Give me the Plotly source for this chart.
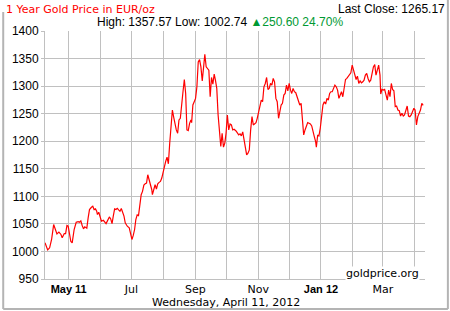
import pandas as pd
import plotly.graph_objects as go

# ---------------- data ----------------
start_date = "2011-04-08"
# days after start_date for each sampled point
day_offsets = [
    0.0, 2.6, 4.5, 6.4, 8.4, 9.7, 11.6, 13.5, 15.5, 16.7, 18.7, 20.0, 21.3, 22.5, 23.8,
    25.1, 26.4, 28.3, 30.3, 32.2, 33.5, 34.8, 36.1, 37.4, 38.6, 40.6, 41.9, 43.2, 45.1,
    46.4, 47.7, 49.0, 50.2, 50.9, 52.2, 53.5, 54.8, 56.7, 58.0, 59.3, 60.5, 62.5, 63.8,
    65.1, 66.3, 67.6, 68.9, 70.2, 71.5, 72.8, 74.1, 75.4, 76.7, 77.9, 79.9, 81.8, 83.1,
    84.4, 85.7, 87.0, 88.2, 89.5, 90.8, 92.1, 93.4, 94.7, 96.0, 97.3, 98.6, 99.8, 101.1,
    102.4, 103.7, 104.3, 105.6, 106.9, 108.2, 109.5, 110.8, 112.1, 113.4, 114.7, 115.9,
    117.2, 118.5, 119.8, 121.1, 122.4, 123.7, 125.0, 126.2, 127.5, 128.8, 130.1, 131.4,
    132.7, 134.0, 135.3, 136.6, 137.8, 139.1, 140.4, 141.7, 142.4, 143.6, 144.9, 146.2,
    147.5, 148.8, 150.1, 151.4, 152.7, 153.9, 155.2, 156.5, 157.8, 159.1, 160.4, 161.7,
    163.0, 164.3, 165.5, 166.8, 168.1, 169.4, 170.7, 172.0, 173.3, 174.6, 175.8, 177.1,
    178.4, 179.7, 181.0, 182.3, 183.6, 185.5,
    186.8, 188.1, 189.4, 190.7, 192.0, 193.3, 194.6, 195.8, 197.1, 198.4, 199.7, 201.0,
    202.3, 203.6, 204.9, 206.1, 207.4, 208.7, 210.0, 211.3, 212.6, 213.9, 215.2, 216.5,
    217.7, 219.0, 220.3, 221.6, 222.9, 224.2, 225.5, 226.8, 228.0, 229.3, 230.6, 231.9,
    233.2, 234.5, 235.8, 237.1, 238.4, 239.6, 240.9, 242.2, 243.5, 244.8, 246.1, 247.4,
    248.7, 249.9, 251.2, 252.5, 253.8, 255.1, 256.4, 257.7, 259.0, 260.2, 261.5, 262.8,
    263.5, 264.8, 266.0, 267.3, 268.6, 269.9, 271.2, 272.5, 273.8, 275.1, 276.4, 277.6,
    278.9, 280.2, 281.5, 282.8, 284.1, 285.4, 286.7, 287.9, 289.2, 290.5, 291.8, 293.1,
    294.4, 295.7, 297.0, 298.3, 299.5, 300.8, 302.1, 303.4, 304.7, 306.0, 307.3, 308.6,
    309.8, 311.1, 312.4, 313.7, 315.0, 316.3, 317.6, 318.9, 320.2, 321.4, 322.7, 324.0,
    325.3, 326.0, 327.2, 328.5, 329.8, 331.1, 332.4, 333.7, 335.0, 336.3, 337.5, 338.8,
    340.1, 341.4, 342.7, 344.0, 345.3, 346.6, 347.9, 349.1, 350.4, 351.7, 353.0, 354.3,
    355.6, 356.9, 358.2, 359.4, 360.7, 362.0, 363.3, 364.6, 365.9, 367.2,
]
prices_eur = [
    1015.7, 1002.7, 1006.6, 1021.7, 1048.8, 1042.8, 1031.9, 1035.0, 1030.8, 1024.7, 1032.5,
    1032.5, 1047.0, 1045.8, 1033.7, 1018.0, 1015.7, 1039.8, 1053.0, 1054.2, 1053.0, 1055.4,
    1047.0, 1041.0, 1044.6, 1042.2, 1060.9, 1076.0, 1080.1, 1082.0, 1076.0, 1077.2, 1073.0,
    1067.0, 1071.2, 1064.0, 1054.8, 1056.6, 1053.0, 1050.6, 1055.0, 1062.7, 1059.0, 1050.6,
    1064.0, 1077.2, 1076.0, 1078.3, 1075.4, 1073.0, 1077.8, 1071.2, 1064.0, 1051.8, 1045.8,
    1042.8, 1033.7, 1021.7, 1029.0, 1039.8, 1057.8, 1066.3, 1065.0, 1085.0, 1103.0, 1109.0,
    1120.5, 1122.9, 1124.0, 1139.2, 1130.0, 1122.9, 1112.0, 1103.0, 1115.0, 1121.0, 1113.3,
    1122.9, 1125.3, 1127.1, 1133.1, 1145.2, 1157.2, 1163.3, 1171.1, 1159.0, 1196.4, 1226.5,
    1256.6, 1243.4, 1229.5, 1220.5, 1214.5, 1238.6, 1241.6, 1271.7, 1289.8, 1312.0, 1286.7,
    1220.5, 1219.3, 1232.5, 1238.6, 1233.7, 1265.7, 1271.7, 1277.7, 1298.8, 1344.0, 1348.2,
    1335.0, 1309.6, 1341.0, 1357.6, 1335.0, 1332.0, 1328.9, 1280.7, 1315.7, 1303.6, 1321.7,
    1310.8, 1295.8, 1247.6, 1214.5, 1190.4, 1214.5, 1189.2, 1196.4, 1214.5, 1247.6, 1220.5,
    1231.3, 1229.5, 1220.5, 1221.7, 1218.7,
    1215.7, 1211.4, 1213.3, 1209.6, 1217.0, 1202.4, 1193.4, 1175.3, 1178.3, 1184.3, 1220.5,
    1244.6, 1229.5, 1232.5, 1233.7, 1241.6, 1253.7, 1262.7, 1274.7, 1271.7, 1298.8, 1304.8,
    1315.7, 1294.0, 1295.8, 1304.8, 1301.8, 1313.9, 1307.8, 1277.7, 1271.7, 1241.6, 1256.6,
    1265.7, 1268.7, 1283.7, 1286.7, 1301.8, 1291.5, 1304.8, 1292.7, 1286.7, 1295.8, 1289.8,
    1288.0, 1280.7, 1274.7, 1265.7, 1268.7, 1232.5, 1211.4, 1220.5, 1226.5, 1233.7, 1232.5,
    1231.3, 1227.7, 1220.5, 1208.5, 1199.4, 1189.2, 1211.4, 1209.6, 1223.5, 1250.6, 1265.7,
    1271.7, 1267.5, 1277.7, 1274.7, 1286.7, 1289.8, 1289.8, 1295.8, 1301.8, 1298.8, 1292.7,
    1277.7, 1286.7, 1289.8, 1280.7, 1295.8, 1312.0, 1313.9, 1316.9, 1319.9, 1324.1, 1338.0,
    1328.9, 1316.9, 1312.0, 1318.0, 1304.8, 1309.6, 1306.0, 1307.8, 1310.8, 1319.9, 1322.9,
    1313.9, 1307.8, 1310.8, 1325.9, 1334.9, 1339.2, 1319.9, 1328.9, 1338.0, 1319.9, 1285.5,
    1294.0, 1292.7, 1294.0, 1283.7, 1274.7, 1292.7, 1280.7, 1304.8, 1294.0, 1291.5, 1262.7,
    1263.9, 1256.6, 1255.4, 1245.8, 1250.6, 1245.8, 1247.6, 1255.4, 1263.9, 1245.8, 1244.6,
    1247.6, 1253.7, 1259.7, 1256.6, 1229.5, 1244.6, 1249.4, 1256.6, 1268.7, 1265.2,
]
month_ticks = ["2011-05-01", "2011-06-01", "2011-07-01", "2011-08-01", "2011-09-01",
               "2011-10-01", "2011-11-01", "2011-12-01", "2012-01-01", "2012-02-01",
               "2012-03-01", "2012-04-01"]
month_labels = ["May 11", "", "Jul", "", "Sep", "", "Nov", "", "Jan 12", "", "Mar", ""]
bold_labels = ["May 11", "Jan 12"]
y_ticks = [950, 1000, 1050, 1100, 1150, 1200, 1250, 1300, 1350, 1400]

title_text = "1 Year Gold Price in EUR/oz"
last_close = "1265.17"
high_val = "1357.57"
low_val = "1002.74"
change_val = "250.60"
change_pct = "24.70%"
date_text = "Wednesday, April 11, 2012"
source_text = "goldprice.org"

# ---------------- figure ----------------
W, H = 450, 311
L, R, T, B = 43, 425, 31, 279  # plot area in pixels


def px(x):
    return (x - L) / (R - L)


def py(y):
    return (B - y) / (B - T)


dates = pd.Timestamp(start_date) + pd.to_timedelta(day_offsets, unit="D")

ticktext = []
for lab in month_labels:
    if lab in bold_labels:
        ticktext.append('<span style="font-family:Liberation Sans"><b>%s</b></span>' % lab)
    else:
        ticktext.append(lab)

fig = go.Figure()
fig.add_trace(go.Scatter(x=dates, y=prices_eur, mode="lines",
                         line=dict(color="#ff0000", width=1.2), hoverinfo="skip"))

grid = "#c0c0c0"
fig.update_layout(
    width=W, height=H,
    margin=dict(l=L, r=W - R, t=T, b=H - B, pad=0),
    paper_bgcolor="white", plot_bgcolor="white",
    showlegend=False,
    xaxis=dict(type="date", range=[start_date, "2012-04-11"],
               tickmode="array", tickvals=month_ticks, ticktext=ticktext,
               showgrid=True, gridcolor=grid, gridwidth=1,
               showline=True, linecolor=grid, linewidth=1,
               ticks="", tickangle=0,
               tickfont=dict(family="DejaVu Sans", size=11, color="#000000"),
               zeroline=False, fixedrange=True),
    yaxis=dict(range=[950, 1400], tickmode="array", tickvals=y_ticks,
               showgrid=True, gridcolor=grid, gridwidth=1,
               showline=True, linecolor=grid, linewidth=1,
               ticks="outside", ticklen=3, tickcolor=grid,
               tickfont=dict(family="Liberation Sans", size=12, color="#000000"),
               zeroline=False, fixedrange=True),
)

ann = []
ann.append(dict(text=title_text, x=px(2), y=py(9), xanchor="left", yanchor="middle",
                font=dict(family="DejaVu Sans", size=11, color="#ff0000")))
ann.append(dict(text="Last Close: " + last_close, x=px(447), y=py(9), xanchor="right",
                yanchor="middle", font=dict(family="Liberation Sans", size=12, color="#000000")))
ann.append(dict(text="High: %s Low: %s <span style=\"color:#009933\">\u25B2%s %s</span>"
                % (high_val, low_val, change_val, change_pct),
                x=px(93), y=py(22), xanchor="left", yanchor="middle",
                font=dict(family="Liberation Sans", size=12, color="#000000")))
ann.append(dict(text=date_text, x=px(225), y=py(302), xanchor="center", yanchor="middle",
                font=dict(family="DejaVu Sans", size=11, color="#000000")))
ann.append(dict(text=source_text, x=px(420), y=py(273), xanchor="right", yanchor="middle",
                bgcolor="white", borderpad=0,
                font=dict(family="DejaVu Sans", size=11, color="#000000")))
for a in ann:
    a.update(xref="paper", yref="paper", showarrow=False)
fig.update_layout(annotations=ann)

# outer frame
border = "#b4b4b4"
shapes = [
    dict(type="line", x0=px(1), x1=px(1), y0=py(12), y1=py(309)),
    dict(type="line", x0=px(1), x1=px(448), y0=py(309), y1=py(309)),
    dict(type="line", x0=px(448), x1=px(448), y0=py(0), y1=py(309)),
]
for s in shapes:
    s.update(xref="paper", yref="paper", line=dict(color=border, width=2), layer="above")
fig.update_layout(shapes=shapes)

fig.write_html("out.html")
